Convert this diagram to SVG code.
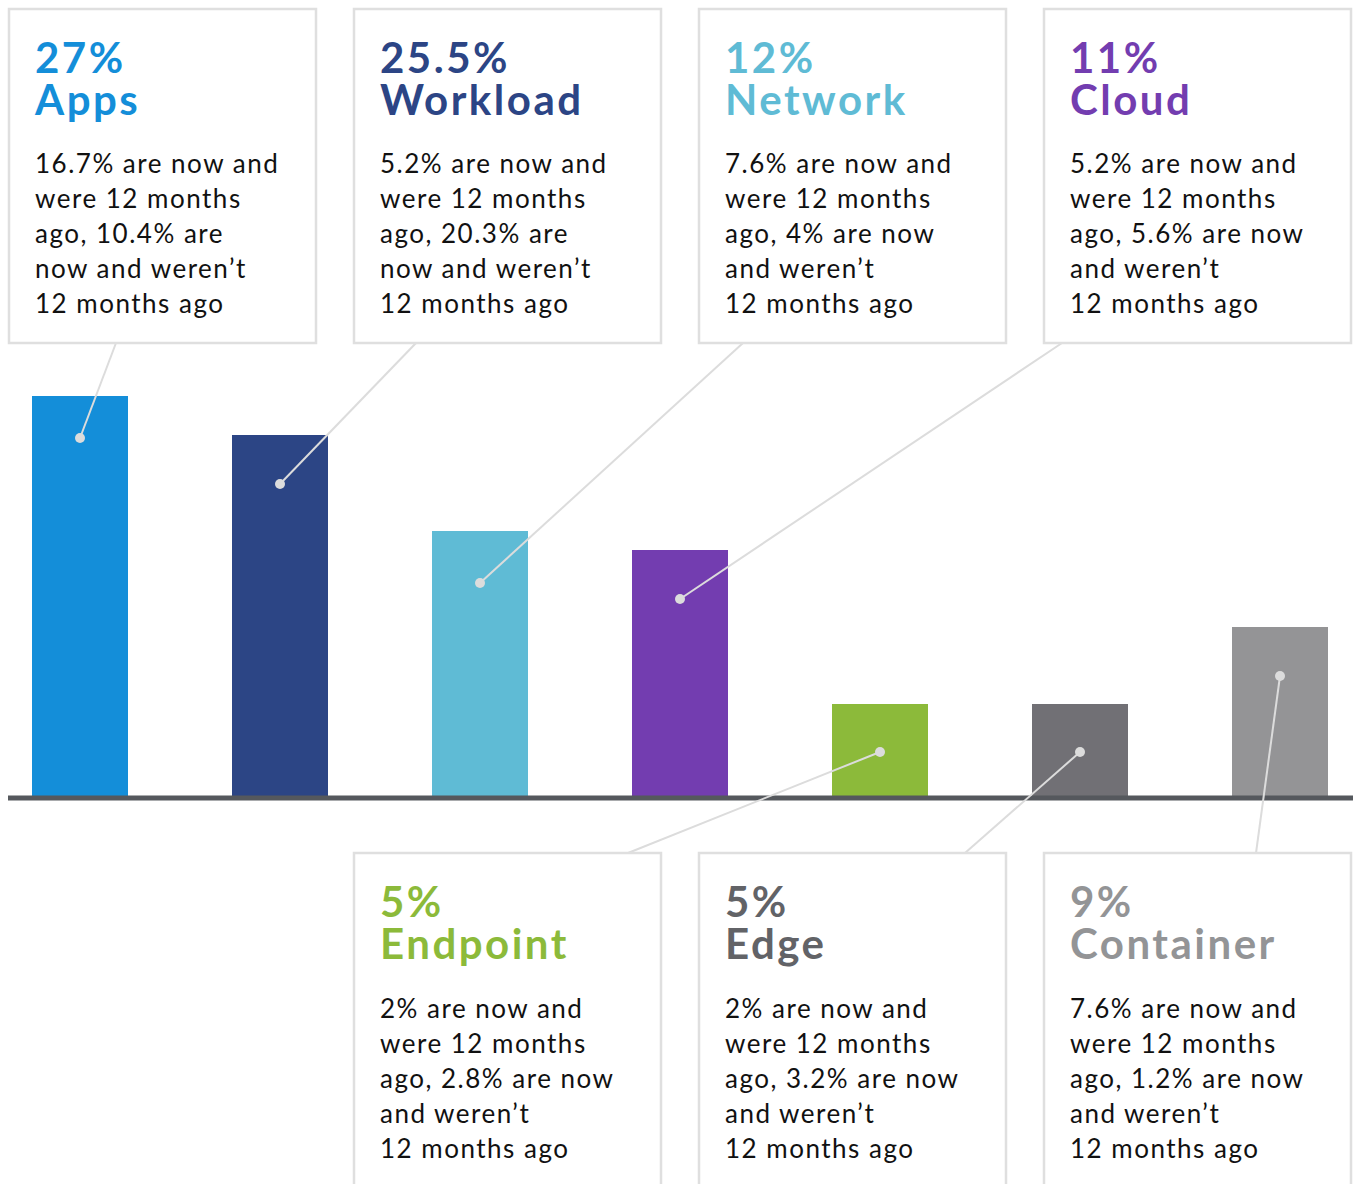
<svg xmlns="http://www.w3.org/2000/svg" width="1353" height="1184" viewBox="0 0 1353 1184">
<style>
.box{fill:#fff;stroke:#dfdfdf;stroke-width:2.5}
.t{font-family:"Lato","Noto Sans","Liberation Sans",sans-serif;font-weight:700;font-size:42px;letter-spacing:2.5px}
.b{font-family:"Lato","Noto Sans","Liberation Sans",sans-serif;font-size:26px;letter-spacing:1.5px;fill:#111}
.c{stroke:#dcdcdc;stroke-width:2;fill:none}
.d{fill:#dcdcdc}
</style>
<rect width="1353" height="1184" fill="#fff"/>
<g id="bars">
<rect x="32" y="396" width="96" height="401" fill="#148ed9"/>
<rect x="232" y="435" width="96" height="362" fill="#2c4585"/>
<rect x="432" y="531" width="96" height="266" fill="#5fbbd5"/>
<rect x="632" y="550" width="96" height="247" fill="#733db0"/>
<rect x="832" y="704" width="96" height="93" fill="#8cba3a"/>
<rect x="1032" y="704" width="96" height="93" fill="#717075"/>
<rect x="1232" y="627" width="96" height="170" fill="#949496"/>
</g>
<g id="axis"><rect x="8" y="795.5" width="1345" height="5" fill="#55585d"/></g>
<g id="connectors">
<line class="c" x1="116" y1="343" x2="80" y2="438"/>
<line class="c" x1="416" y1="343" x2="280" y2="484"/>
<line class="c" x1="743" y1="343" x2="480" y2="583"/>
<line class="c" x1="1062" y1="343" x2="680" y2="599"/>
<line class="c" x1="628" y1="853" x2="880" y2="752"/>
<line class="c" x1="965" y1="853" x2="1080" y2="752"/>
<line class="c" x1="1256" y1="853" x2="1280" y2="676"/>
<circle class="d" cx="80" cy="438" r="5"/>
<circle class="d" cx="280" cy="484" r="5"/>
<circle class="d" cx="480" cy="583" r="5"/>
<circle class="d" cx="680" cy="599" r="5"/>
<circle class="d" cx="880" cy="752" r="5"/>
<circle class="d" cx="1080" cy="752" r="5"/>
<circle class="d" cx="1280" cy="676" r="5"/>
</g>
<g id="apps">
<rect class="box" x="9" y="9" width="307" height="334"/>
<text class="t" fill="#148ed9"><tspan x="35" y="73">27%</tspan><tspan x="35" y="115">Apps</tspan></text>
<text class="b"><tspan x="35" y="173">16.7% are now and</tspan><tspan x="35" y="208">were 12 months</tspan><tspan x="35" y="243">ago, 10.4% are</tspan><tspan x="35" y="278">now and weren’t</tspan><tspan x="35" y="313">12 months ago</tspan></text>
</g>
<g id="workload">
<rect class="box" x="354" y="9" width="307" height="334"/>
<text class="t" fill="#2c4585"><tspan x="380" y="73">25.5%</tspan><tspan x="380" y="115">Workload</tspan></text>
<text class="b"><tspan x="380" y="173">5.2% are now and</tspan><tspan x="380" y="208">were 12 months</tspan><tspan x="380" y="243">ago, 20.3% are</tspan><tspan x="380" y="278">now and weren’t</tspan><tspan x="380" y="313">12 months ago</tspan></text>
</g>
<g id="network">
<rect class="box" x="699" y="9" width="307" height="334"/>
<text class="t" fill="#5fbbd5"><tspan x="725" y="73">12%</tspan><tspan x="725" y="115">Network</tspan></text>
<text class="b"><tspan x="725" y="173">7.6% are now and</tspan><tspan x="725" y="208">were 12 months</tspan><tspan x="725" y="243">ago, 4% are now</tspan><tspan x="725" y="278">and weren’t</tspan><tspan x="725" y="313">12 months ago</tspan></text>
</g>
<g id="cloud">
<rect class="box" x="1044" y="9" width="307" height="334"/>
<text class="t" fill="#733db0"><tspan x="1070" y="73">11%</tspan><tspan x="1070" y="115">Cloud</tspan></text>
<text class="b"><tspan x="1070" y="173">5.2% are now and</tspan><tspan x="1070" y="208">were 12 months</tspan><tspan x="1070" y="243">ago, 5.6% are now</tspan><tspan x="1070" y="278">and weren’t</tspan><tspan x="1070" y="313">12 months ago</tspan></text>
</g>
<g id="endpoint">
<rect class="box" x="354" y="853" width="307" height="340"/>
<text class="t" fill="#8cba3a"><tspan x="380" y="917">5%</tspan><tspan x="380" y="959">Endpoint</tspan></text>
<text class="b"><tspan x="380" y="1018">2% are now and</tspan><tspan x="380" y="1053">were 12 months</tspan><tspan x="380" y="1088">ago, 2.8% are now</tspan><tspan x="380" y="1123">and weren’t</tspan><tspan x="380" y="1158">12 months ago</tspan></text>
</g>
<g id="edge">
<rect class="box" x="699" y="853" width="307" height="340"/>
<text class="t" fill="#626367"><tspan x="725" y="917">5%</tspan><tspan x="725" y="959">Edge</tspan></text>
<text class="b"><tspan x="725" y="1018">2% are now and</tspan><tspan x="725" y="1053">were 12 months</tspan><tspan x="725" y="1088">ago, 3.2% are now</tspan><tspan x="725" y="1123">and weren’t</tspan><tspan x="725" y="1158">12 months ago</tspan></text>
</g>
<g id="container">
<rect class="box" x="1044" y="853" width="307" height="340"/>
<text class="t" fill="#939496"><tspan x="1070" y="917">9%</tspan><tspan x="1070" y="959">Container</tspan></text>
<text class="b"><tspan x="1070" y="1018">7.6% are now and</tspan><tspan x="1070" y="1053">were 12 months</tspan><tspan x="1070" y="1088">ago, 1.2% are now</tspan><tspan x="1070" y="1123">and weren’t</tspan><tspan x="1070" y="1158">12 months ago</tspan></text>
</g>
</svg>
